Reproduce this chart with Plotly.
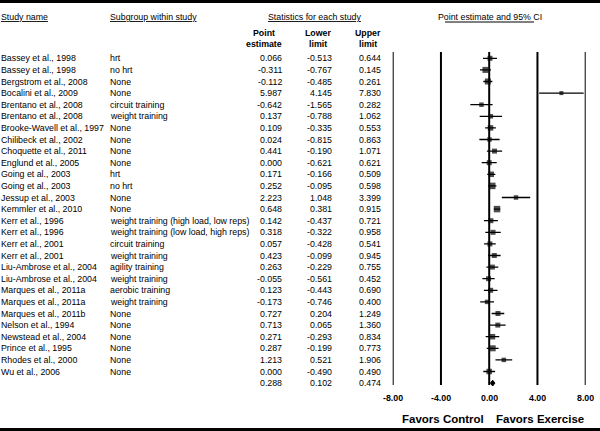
import plotly.graph_objects as go

study_names = [
    "Bassey et al., 1998", "Bassey et al., 1998", "Bergstrom et al., 2008", "Bocalini et al., 2009",
    "Brentano et al., 2008", "Brentano et al., 2008", "Brooke-Wavell et al., 1997", "Chilibeck et al., 2002",
    "Choquette et al., 2011", "Englund et al., 2005", "Going et al., 2003", "Going et al., 2003",
    "Jessup et al., 2003", "Kemmler et al., 2010", "Kerr et al., 1996", "Kerr et al., 1996",
    "Kerr et al., 2001", "Kerr et al., 2001", "Liu-Ambrose et al., 2004", "Liu-Ambrose et al., 2004",
    "Marques et al., 2011a", "Marques et al., 2011a", "Marques et al., 2011b", "Nelson et al., 1994",
    "Newstead et al., 2004", "Prince et al., 1995", "Rhodes et al., 2000", "Wu et al., 2006",
]
subgroups = [
    "hrt", "no hrt", "None", "None", "circuit training", "weight training", "None", "None",
    "None", "None", "hrt", "no hrt", "None", "None",
    "weight training (high load, low reps)", "weight training (low load, high reps)",
    "circuit training", "weight training", "agility training", "weight training",
    "aerobic training", "weight training", "None", "None", "None", "None", "None", "None",
]
point_est = [0.066, -0.311, -0.112, 5.987, -0.642, 0.137, 0.109, 0.024, 0.441, 0.000, 0.171, 0.252,
             2.223, 0.648, 0.142, 0.318, 0.057, 0.423, 0.263, -0.055, 0.123, -0.173, 0.727, 0.713,
             0.271, 0.287, 1.213, 0.000]
lower = [-0.513, -0.767, -0.485, 4.145, -1.565, -0.788, -0.335, -0.815, -0.190, -0.621, -0.166, -0.095,
         1.048, 0.381, -0.437, -0.322, -0.428, -0.099, -0.229, -0.561, -0.443, -0.746, 0.204, 0.065,
         -0.293, -0.199, 0.521, -0.490]
upper = [0.644, 0.145, 0.261, 7.830, 0.282, 1.062, 0.553, 0.863, 1.071, 0.621, 0.509, 0.598,
         3.399, 0.915, 0.721, 0.958, 0.541, 0.945, 0.755, 0.452, 0.690, 0.400, 1.249, 1.360,
         0.834, 0.773, 1.906, 0.490]
# relative weights (marker sizes)
weights = [5, 6, 6, 4, 4.5, 4.5, 5.5, 4.5, 5, 5, 5.5, 6.5, 4.5, 6.5, 5, 5, 5, 5, 5, 5, 5, 4.5,
           5, 5, 5.5, 6, 4.5, 5.5]
summary = {"est": 0.288, "lo": 0.102, "hi": 0.474}
tick_vals = [-8, -4, 0, 4, 8]
tick_labels = ["-8.00", "-4.00", "0.00", "4.00", "8.00"]

W, H = 600, 431
FONT = "Liberation Sans, Arial, Helvetica, sans-serif"
FS = 8.8
n = len(study_names)
rows = list(range(1, n + 1))
sum_row = n + 1

row0_px, row_step = 58.3, 11.6
def px2row(p):
    return 1 + (p - row0_px) / row_step

fig = go.Figure()

# vertical reference lines
for tv in tick_vals:
    fig.add_shape(type="line", xref="x", yref="y", x0=tv, x1=tv,
                  y0=px2row(52), y1=px2row(385), line=dict(color="black", width=2))

# CI whiskers and squares
fig.add_trace(go.Scatter(
    x=point_est, y=rows, mode="markers",
    marker=dict(symbol="square", size=weights, color="black", line=dict(width=0)),
    error_x=dict(type="data", symmetric=False,
                 array=[u - p for u, p in zip(upper, point_est)],
                 arrayminus=[p - l for p, l in zip(point_est, lower)],
                 color="black", thickness=1.3, width=0),
    hoverinfo="skip", showlegend=False, cliponaxis=False))

# summary diamond
dh = 0.25
fig.add_trace(go.Scatter(
    x=[summary["lo"], summary["est"], summary["hi"], summary["est"], summary["lo"]],
    y=[sum_row, sum_row - dh, sum_row, sum_row + dh, sum_row],
    mode="lines", fill="toself", fillcolor="black", line=dict(color="black", width=1),
    hoverinfo="skip", showlegend=False))

ann = []
def text(x_px, row, s, anchor="left", size=FS):
    ann.append(dict(x=x_px / W, xref="paper", y=row, yref="y", text=s, showarrow=False,
                    xanchor=anchor, yanchor="middle", borderpad=0, borderwidth=0,
                    font=dict(family=FONT, size=size, color="black")))

for i in range(n):
    r = rows[i]
    text(1, r, study_names[i])
    text(110, r, subgroups[i])
    text(282, r, f"{point_est[i]:.3f}", "right")
    text(332, r, f"{lower[i]:.3f}", "right")
    text(381, r, f"{upper[i]:.3f}", "right")
text(282, sum_row, f"{summary['est']:.3f}", "right")
text(332, sum_row, f"{summary['lo']:.3f}", "right")
text(381, sum_row, f"{summary['hi']:.3f}", "right")

# headers
hr = px2row(17)
text(1, hr, "<u>Study name</u>")
text(110, hr, "<u>Subgroup within study</u>")
text(314, hr, "<u>Statistics for each study</u>", "center")
text(489.5, hr, "Point estimate and 95% CI", "center")
fig.add_shape(type="line", xref="paper", yref="y", x0=445 / W, x1=534 / W,
              y0=px2row(22), y1=px2row(22), line=dict(color="black", width=1))
text(264, px2row(33), "<b>Point</b>", "center")
text(264, px2row(43.5), "<b>estimate</b>", "center")
text(318, px2row(33), "<b>Lower</b>", "center")
text(318, px2row(43.5), "<b>limit</b>", "center")
text(368, px2row(33), "<b>Upper</b>", "center")
text(368, px2row(43.5), "<b>limit</b>", "center")

# tick labels
for tv, tl in zip(tick_vals, tick_labels):
    ann.append(dict(x=tv, xref="x", y=px2row(398), yref="y", text=f"<b>{tl}</b>", showarrow=False,
                    xanchor="center", yanchor="middle", borderpad=0, borderwidth=0,
                    font=dict(family=FONT, size=FS, color="black")))

text(443, px2row(419), "<b>Favors Control</b>", "center", 11.5)
text(539.5, px2row(419), "<b>Favors Exercise</b>", "center", 11.5)

# thick bars top and bottom
fig.add_shape(type="rect", xref="paper", yref="paper", x0=0, x1=1, y0=1 - 3 / H, y1=1,
              fillcolor="black", line=dict(width=0))
fig.add_shape(type="rect", xref="paper", yref="paper", x0=0, x1=1, y0=0, y1=3 / H,
              fillcolor="black", line=dict(width=0))

fig.update_layout(
    width=W, height=H, margin=dict(l=0, r=0, t=0, b=0),
    paper_bgcolor="white", plot_bgcolor="white",
    annotations=ann,
    xaxis=dict(range=[-8, 8], domain=[392.7 / W, 585.7 / W], showgrid=False, zeroline=False,
               showticklabels=False, ticks="", showline=False, fixedrange=True),
    yaxis=dict(range=[px2row(H), px2row(0)], domain=[0, 1], showgrid=False, zeroline=False,
               showticklabels=False, ticks="", showline=False, fixedrange=True),
)

fig.write_html("out.html", config={"displayModeBar": False},
               post_script="document.body.style.margin='0';document.body.style.padding='0';")
